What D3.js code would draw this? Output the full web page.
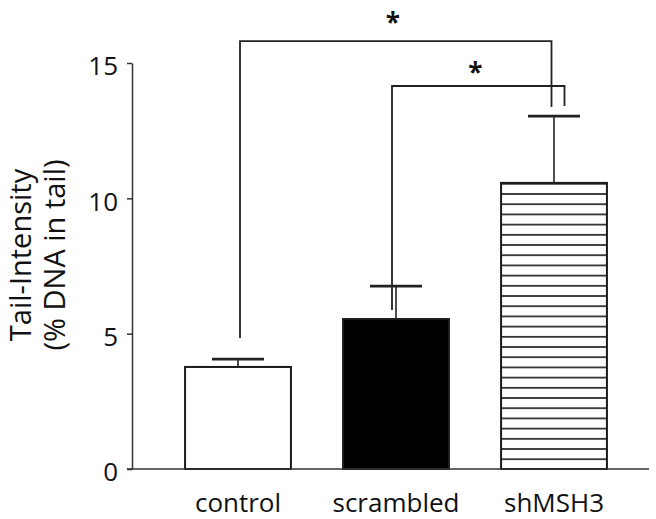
<!DOCTYPE html>
<html>
<head>
<meta charset="utf-8">
<script src="https://cdn.jsdelivr.net/npm/d3@7"></script>
<style>
  body { margin: 0; background: #fff; }
  svg { display: block; }
  text { font-family: "Open Sans", sans-serif; fill: #111; }
</style>
</head>
<body>
<div id="chart"></div>
<script>
// values
var categories = ["control", "scrambled", "shMSH3"];
var means = [3.77, 5.54, 10.57];
var errors = [0.29, 1.22, 2.47];
var yTicks = [0, 5, 10, 15];

// significance brackets
var bracketFrom = ["control", "scrambled"];
var bracketTo = ["shMSH3", "shMSH3"];
var bracketTop = [15.81, 14.15];
var bracketLeftEnd = [4.84, 5.87];
var bracketRightEnd = [13.37, 13.41];
var bracketMark = ["*", "*"];

var width = 656, height = 519;

var svg = d3.select("#chart").append("svg")
    .attr("width", width)
    .attr("height", height);

var x = d3.scaleBand()
    .domain(categories)
    .range([159, 633])
    .paddingInner(0.33)
    .paddingOuter(0.165);

var y = d3.scaleLinear()
    .domain([0, 15])
    .range([469, 63]);

// hatch for the last bar
var defs = svg.append("defs");
var pat = defs.append("pattern")
    .attr("id", "hatch")
    .attr("patternUnits", "userSpaceOnUse")
    .attr("width", 10)
    .attr("height", 10.2)
    .attr("y", y(means[2]));
pat.append("rect").attr("width", 10).attr("height", 10.2).attr("fill", "#fff");
pat.append("line")
    .attr("x1", 0).attr("x2", 10)
    .attr("y1", 0).attr("y2", 0)
    .attr("stroke", "#333")
    .attr("stroke-width", 3.6);

var fills = ["#fff", "#000", "url(#hatch)"];

var data = categories.map(function(c, i) {
    return {cat: c, mean: means[i], err: errors[i], fill: fills[i]};
});

// error bars (drawn first so the bar sits on top)
var cap = 26;
var eb = svg.append("g").selectAll("g")
    .data(data)
    .enter().append("g");

eb.append("line")
    .attr("x1", function(d) { return x(d.cat) + x.bandwidth() / 2; })
    .attr("x2", function(d) { return x(d.cat) + x.bandwidth() / 2; })
    .attr("y1", function(d) { return y(d.mean); })
    .attr("y2", function(d) { return y(d.mean + d.err); })
    .attr("stroke", "#222")
    .attr("stroke-width", 1.6);

eb.append("line")
    .attr("x1", function(d) { return x(d.cat) + x.bandwidth() / 2 - cap; })
    .attr("x2", function(d) { return x(d.cat) + x.bandwidth() / 2 + cap; })
    .attr("y1", function(d) { return y(d.mean + d.err); })
    .attr("y2", function(d) { return y(d.mean + d.err); })
    .attr("stroke", "#222")
    .attr("stroke-width", 2.8);

// bars
svg.append("g").selectAll("rect")
    .data(data)
    .enter().append("rect")
    .attr("x", function(d) { return x(d.cat); })
    .attr("y", function(d) { return y(d.mean); })
    .attr("width", x.bandwidth())
    .attr("height", function(d) { return y(0) - y(d.mean); })
    .attr("fill", function(d) { return d.fill; })
    .attr("stroke", "#1a1a1a")
    .attr("stroke-width", 2);

// y axis
var yAxis = svg.append("g")
    .attr("transform", "translate(132,0)")
    .call(d3.axisLeft(y).tickValues(yTicks).tickSize(5).tickPadding(9).tickSizeOuter(0));
yAxis.select(".domain").attr("stroke", "#333").attr("stroke-width", 1.5);
yAxis.selectAll(".tick line").attr("stroke", "#333").attr("stroke-width", 1.5);
yAxis.selectAll(".tick text")
    .attr("font-family", "Open Sans")
    .attr("font-size", 26)
    .attr("dy", "0.45em")
    .attr("fill", "#111");

// x axis line
svg.append("line")
    .attr("x1", 127).attr("x2", 649)
    .attr("y1", y(0)).attr("y2", y(0))
    .attr("stroke", "#333")
    .attr("stroke-width", 1.5);

// category labels
svg.append("g").selectAll("text")
    .data(categories)
    .enter().append("text")
    .attr("x", function(d) { return x(d) + x.bandwidth() / 2; })
    .attr("y", 512)
    .attr("text-anchor", "middle")
    .attr("font-size", 26)
    .text(function(d) { return d; });

// y title
var title = svg.append("text")
    .attr("transform", "translate(31,255) rotate(-90)")
    .attr("text-anchor", "middle")
    .attr("font-size", 29);
title.append("tspan").attr("x", 0).attr("y", 0).text("Tail-Intensity");
title.append("tspan").attr("x", 0).attr("y", 34).text("(% DNA in tail)");

// brackets
var legShift = [[2, -2.5], [-4, 10.5]];
var starGap = [24, 19];
bracketFrom.forEach(function(f, i) {
    var cx1 = x(f) + x.bandwidth() / 2 + legShift[i][0];
    var cx2 = x(bracketTo[i]) + x.bandwidth() / 2 + legShift[i][1];
    var path = d3.path();
    path.moveTo(cx1, y(bracketLeftEnd[i]));
    path.lineTo(cx1, y(bracketTop[i]));
    path.lineTo(cx2, y(bracketTop[i]));
    path.lineTo(cx2, y(bracketRightEnd[i]));
    svg.append("path")
        .attr("d", path.toString())
        .attr("fill", "none")
        .attr("stroke", "#222")
        .attr("stroke-width", 1.8);

    // star glyph centre sits ~15px above its baseline
    svg.append("text")
        .attr("x", (cx1 + cx2) / 2 - 3)
        .attr("y", y(bracketTop[i]) - starGap[i] + 15)
        .attr("text-anchor", "middle")
        .attr("font-family", "DejaVu Sans")
        .attr("font-weight", "bold")
        .attr("font-size", 26)
        .text(bracketMark[i]);
});
</script>
</body>
</html>
